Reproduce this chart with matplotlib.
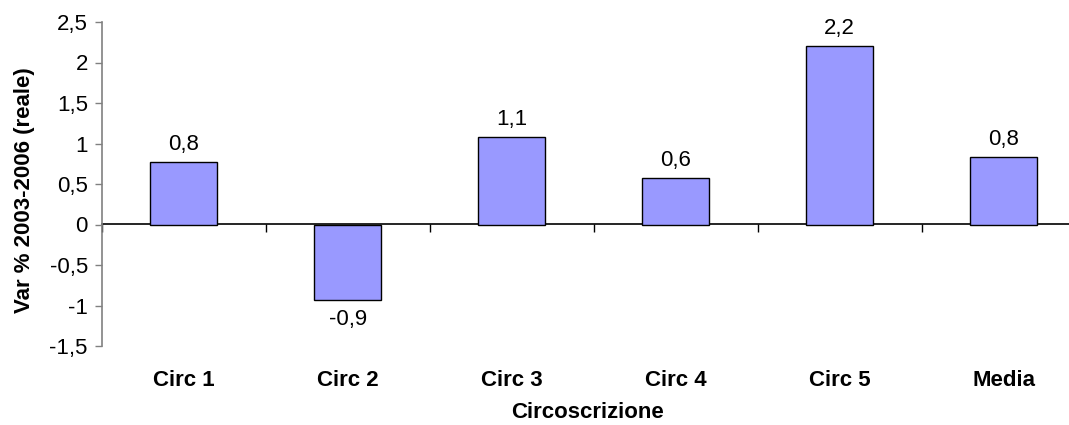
import matplotlib
matplotlib.use("Agg")
import matplotlib.pyplot as plt
from matplotlib.ticker import FuncFormatter

categories = ["Circ 1", "Circ 2", "Circ 3", "Circ 4", "Circ 5", "Media"]
values = [0.77, -0.93, 1.08, 0.58, 2.20, 0.83]
labels = ["0,8", "-0,9", "1,1", "0,6", "2,2", "0,8"]
yticks = [-1.5, -1.0, -0.5, 0.0, 0.5, 1.0, 1.5, 2.0, 2.5]

plt.rcParams['font.family'] = ['Liberation Sans', 'DejaVu Sans']
FS = 16

W, H = 1069, 425
fig = plt.figure(figsize=(W / 100, H / 100), dpi=100)
left, right, top, bottom = 101.7, 1085.7, 22, 346
ax = fig.add_axes([left / W, 1 - bottom / H, (right - left) / W, (bottom - top) / H])

x = list(range(len(categories)))
ax.bar(x, values, width=0.41, color="#9999FF", edgecolor="black", linewidth=1.0, zorder=3)

for xi, v, lab in zip(x, values, labels):
    off = 12.5 if v >= 0 else -14.4
    ax.annotate(lab, (xi, v), xytext=(0, off), textcoords="offset points",
                ha="center", va="center", fontsize=FS, color="black")

ax.set_xlim(-0.5, len(categories) - 0.5)
ax.set_ylim(-1.5, 2.5)
ax.set_yticks(yticks)
ax.yaxis.set_major_formatter(FuncFormatter(lambda v, p: ("%g" % v).replace(".", ",")))
ax.tick_params(axis="y", direction="out", length=5, width=1, color="#808080",
               labelsize=FS, pad=5)

for s in ["top", "right", "bottom"]:
    ax.spines[s].set_visible(False)
ax.spines["left"].set_color("#808080")
ax.spines["left"].set_linewidth(1.2)

# category labels at bottom
ax.set_xticks(x)
ax.set_xticklabels(categories, fontsize=FS, fontweight="bold")
ax.tick_params(axis="x", length=0, pad=17)

# zero axis with boundary ticks
sec = ax.secondary_xaxis(1.5 / 4.0)
sec.set_xticks([i + 0.5 for i in range(-1, len(categories))])
sec.set_xticklabels([])
sec.tick_params(direction="out", length=6, width=1, color="black")
sec.spines["bottom"].set_color("black")
sec.spines["bottom"].set_linewidth(1.2)

ax.set_ylabel("Var % 2003-2006 (reale)", fontsize=FS, fontweight="bold")
ax.yaxis.set_label_coords(-(left - 35) / (right - left), (bottom - 190) / (bottom - top))
ax.set_xlabel("Circoscrizione", fontsize=FS, fontweight="bold")
ax.xaxis.set_label_coords((588 - left) / (right - left), -(402 - bottom) / (bottom - top))

fig.savefig("out.png", dpi=100)
